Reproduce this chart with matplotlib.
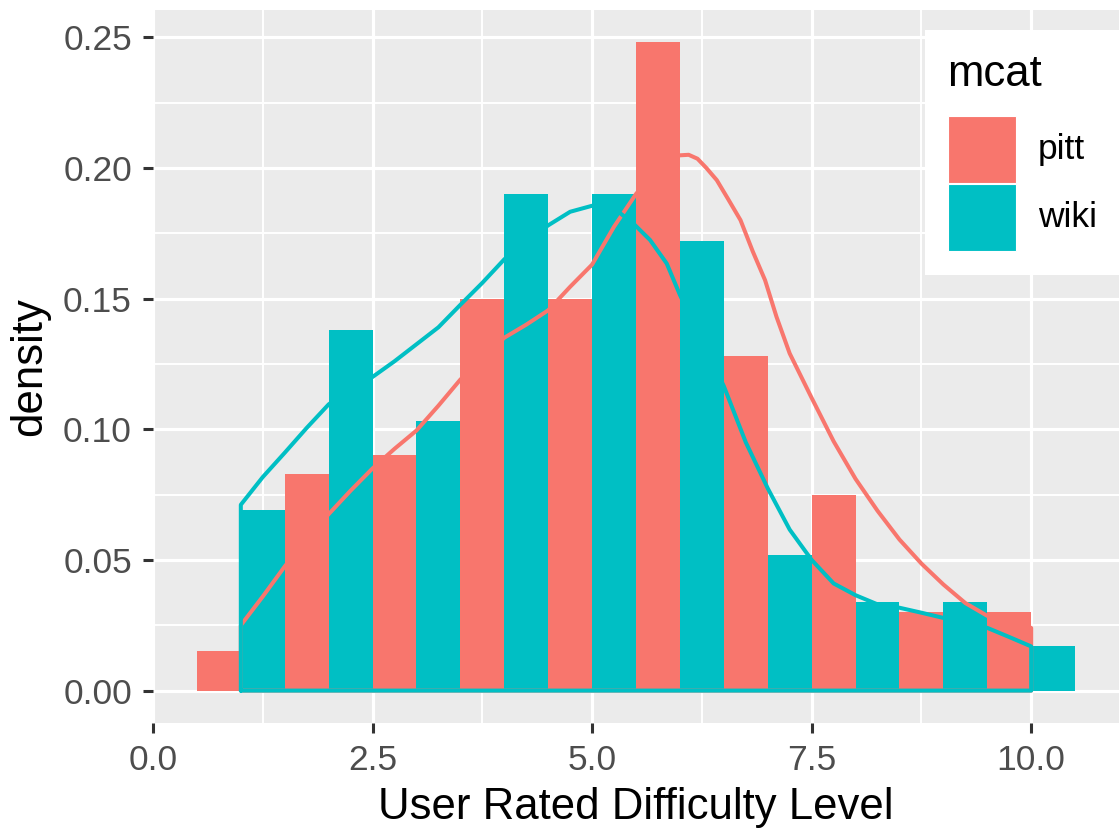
import matplotlib
matplotlib.use("Agg")
import matplotlib.pyplot as plt
from matplotlib.patches import Rectangle
from matplotlib.ticker import MultipleLocator

plt.rcParams['font.family'] = ['Liberation Sans', 'DejaVu Sans']

# ---------------- data ----------------
bins = [1, 2, 3, 4, 5, 6, 7, 8, 9, 10]
pitt_density = [0.015, 0.083, 0.090, 0.150, 0.150, 0.248, 0.128, 0.075, 0.030, 0.030]
wiki_density = [0.069, 0.138, 0.103, 0.190, 0.190, 0.172, 0.052, 0.034, 0.034, 0.017]

pitt_kde_x = [1.0, 1.25, 1.5, 1.75, 2.0, 2.25, 2.5, 2.75, 3.0, 3.25, 3.5, 3.75,
              4.0, 4.25, 4.5, 4.75, 5.0, 5.25, 5.5, 5.75, 5.9, 6.0, 6.1, 6.2,
              6.3, 6.42, 6.55, 6.69, 6.83, 6.97, 7.1, 7.25, 7.5, 7.75, 8.0,
              8.25, 8.5, 8.75, 9.0, 9.25, 9.5, 9.75, 10.0]
pitt_kde = [0.025, 0.036, 0.0475, 0.058, 0.0675, 0.0765, 0.085, 0.0925, 0.0995,
            0.109, 0.119, 0.127, 0.135, 0.140, 0.1455, 0.1545, 0.163, 0.1775,
            0.190, 0.200, 0.2035, 0.2048, 0.205, 0.2035, 0.200, 0.1953, 0.188,
            0.180, 0.168, 0.157, 0.143, 0.129, 0.112, 0.0954, 0.081, 0.0688,
            0.0578, 0.0486, 0.0406, 0.0335, 0.0286, 0.0258, 0.024]

wiki_kde_x = [1.0, 1.25, 1.5, 1.75, 2.0, 2.25, 2.5, 2.75, 3.0, 3.25, 3.5, 3.75,
              4.0, 4.25, 4.5, 4.75, 5.0, 5.25, 5.47, 5.66, 5.85, 6.0, 6.25,
              6.5, 6.75, 7.0, 7.25, 7.5, 7.75, 8.0, 8.25, 8.5, 8.75, 9.0,
              9.25, 9.5, 9.75, 10.0]
wiki_kde = [0.0711, 0.0817, 0.091, 0.1005, 0.1095, 0.1155, 0.120, 0.126, 0.1325,
            0.139, 0.1476, 0.156, 0.165, 0.172, 0.178, 0.1832, 0.1855, 0.1845,
            0.1787, 0.1724, 0.1634, 0.1514, 0.134, 0.1165, 0.095, 0.0774,
            0.0616, 0.050, 0.041, 0.0365, 0.033, 0.0317, 0.0298, 0.0278,
            0.0259, 0.024, 0.0205, 0.0169]

groups = ['pitt', 'wiki']
colors = {'pitt': '#F8766D', 'wiki': '#00BFC4'}
x_ticks = [0.0, 2.5, 5.0, 7.5, 10.0]
x_ticklabels = ['0.0', '2.5', '5.0', '7.5', '10.0']
y_ticks = [0.00, 0.05, 0.10, 0.15, 0.20, 0.25]
y_ticklabels = ['0.00', '0.05', '0.10', '0.15', '0.20', '0.25']

# ---------------- figure ----------------
W, H = 1119, 834
fig = plt.figure(figsize=(W / 100, H / 100), dpi=100)
fig.patch.set_facecolor('white')

L, R, T, B = 153, 1119, 10, 723
ax = fig.add_axes([L / W, 1 - B / H, (R - L) / W, (B - T) / H])
ax.set_facecolor('#EBEBEB')
for s in ax.spines.values():
    s.set_visible(False)

ax.set_xlim(0, 11)
ax.set_ylim(-0.0124, 0.2604)

ax.set_xticks(x_ticks)
ax.set_xticklabels(x_ticklabels)
ax.set_yticks(y_ticks)
ax.set_yticklabels(y_ticklabels)
ax.xaxis.set_minor_locator(MultipleLocator(1.25))
ax.yaxis.set_minor_locator(MultipleLocator(0.025))

ax.grid(which='major', color='white', linewidth=2.3, zorder=0)
ax.grid(which='minor', color='white', linewidth=1.4, zorder=0)
ax.set_axisbelow(True)

ax.tick_params(which='major', length=7.2, width=2.2, color='#333333',
               labelsize=25.5, labelcolor='#4D4D4D')
ax.tick_params(axis='y', which='major', pad=8)
ax.tick_params(axis='x', which='major', pad=8)
ax.tick_params(which='minor', length=0)

# bars (dodged)
ax.bar([b - 0.5 for b in bins], pitt_density, width=0.5, align='edge',
       color=colors['pitt'], linewidth=0, zorder=2)
ax.bar(bins, wiki_density, width=0.5, align='edge',
       color=colors['wiki'], linewidth=0, zorder=2)

# density outlines (full outline)
for name, xs, ys in (('pitt', pitt_kde_x, pitt_kde), ('wiki', wiki_kde_x, wiki_kde)):
    px = [xs[0]] + xs + [xs[-1], xs[0]]
    py = [0.0] + ys + [0.0, 0.0]
    ax.plot(px, py, color=colors[name], linewidth=2.9, zorder=3,
            solid_joinstyle='round', solid_capstyle='round')

ax.set_xlabel('User Rated Difficulty Level', fontsize=31.5, color='black', labelpad=7)
ax.set_ylabel('density', fontsize=31.5, color='black', labelpad=9)

# ---------------- legend (manual, ggplot-like) ----------------
def fx(p):
    return p / W

def fy(p):
    return 1 - p / H

fig.patches.append(Rectangle((fx(925), fy(275)), fx(1119) - fx(925), fy(30) - fy(275),
                             transform=fig.transFigure, facecolor='white',
                             edgecolor='none', zorder=5))
fig.text(fx(947), fy(75), 'mcat', fontsize=31.5, color='black',
         ha='left', va='center', zorder=6)
key_tops = [116, 184]
for name, top in zip(groups, key_tops):
    fig.patches.append(Rectangle((fx(948), fy(top + 67)), fx(1016) - fx(948),
                                 fy(top) - fy(top + 67),
                                 transform=fig.transFigure,
                                 facecolor=colors[name], edgecolor='white',
                                 linewidth=0.8, zorder=6))
    fig.text(fx(1038), fy(top + 34), name, fontsize=25.5, color='black',
             ha='left', va='center', zorder=6)

fig.savefig('out.png', dpi=100)
